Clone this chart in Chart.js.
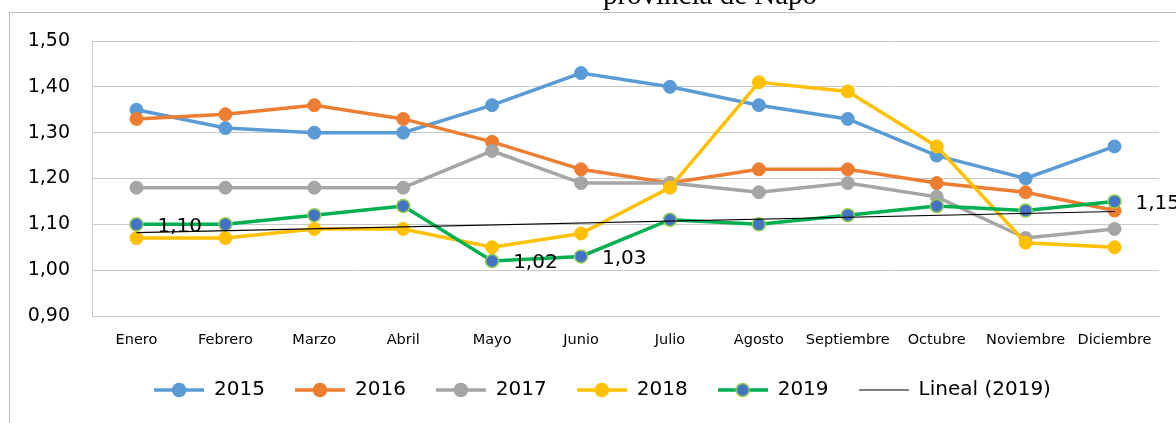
<!DOCTYPE html>
<html>
<head>
<meta charset="utf-8">
<title>provincia de Napo</title>
<script src="https://cdn.jsdelivr.net/npm/chart.js@4.4.0/dist/chart.umd.min.js"></script>
<style>
  html, body { margin: 0; padding: 0; background: #fff; }
  #wrap { position: relative; width: 1176px; height: 423px; overflow: hidden; }
  #caption {
    position: absolute; top: -20px; left: 0; width: 1420px;
    text-align: center; white-space: nowrap;
    font-family: "Liberation Serif", serif; font-size: 29px; line-height: 29px; color: #000;
  }
  #chart { position: absolute; left: 0; top: 0; }
</style>
</head>
<body>
<div id="wrap">
  <canvas id="chart" width="1176" height="423"></canvas>
  <div id="caption">provincia de Napo</div>
</div>
<script>
const months = ["Enero", "Febrero", "Marzo", "Abril", "Mayo", "Junio", "Julio",
  "Agosto", "Septiembre", "Octubre", "Noviembre", "Diciembre"];
const years = ["2015", "2016", "2017", "2018", "2019"];

const v2015 = [1.35, 1.31, 1.30, 1.30, 1.36, 1.43, 1.40, 1.36, 1.33, 1.25, 1.20, 1.27];
const v2016 = [1.33, 1.34, 1.36, 1.33, 1.28, 1.22, 1.19, 1.22, 1.22, 1.19, 1.17, 1.13];
const v2017 = [1.18, 1.18, 1.18, 1.18, 1.26, 1.19, 1.19, 1.17, 1.19, 1.16, 1.07, 1.09];
const v2018 = [1.07, 1.07, 1.09, 1.09, 1.05, 1.08, 1.18, 1.41, 1.39, 1.27, 1.06, 1.05];
const v2019 = [1.10, 1.10, 1.12, 1.14, 1.02, 1.03, 1.11, 1.10, 1.12, 1.14, 1.13, 1.15];

// linear trend of 2019, only its two ends (Enero, Diciembre)
const trend2019 = [1.082, null, null, null, null, null, null, null, null, null, null, 1.128];
const trendName = "Lineal (2019)";

// 2019 points that carry a value label
const labeledPoints = [0, 4, 5, 11];

const colors = ["#5B9BD5", "#ED7D31", "#A5A5A5", "#FFC000", "#00B050"];
const marker2019 = "#4472C4";
const markerEdge2019 = "#92D050";

const font = "'DejaVu Sans', sans-serif";
const fmt = v => v.toFixed(2).replace(".", ",");

function legendIcon(line, lineWidth, fill, edge) {
  const c = document.createElement("canvas");
  c.width = 50;
  c.height = 16;
  const g = c.getContext("2d");
  g.strokeStyle = line;
  g.lineWidth = lineWidth;
  g.beginPath();
  g.moveTo(0, 8);
  g.lineTo(50, 8);
  g.stroke();
  if (fill) {
    g.beginPath();
    g.arc(25, 8, 6.5, 0, Math.PI * 2);
    g.fillStyle = fill;
    g.fill();
    g.lineWidth = 1.5;
    g.strokeStyle = edge;
    g.stroke();
  }
  return c;
}

const series = [v2015, v2016, v2017, v2018, v2019];
const icons = [];
const datasets = series.map((values, i) => {
  const last = i === 4;
  icons.push(legendIcon(colors[i], 3.5, last ? marker2019 : colors[i], last ? markerEdge2019 : colors[i]));
  return {
    label: years[i],
    data: values,
    borderColor: colors[i],
    backgroundColor: colors[i],
    borderWidth: 3.5,
    pointRadius: 6.5,
    pointHoverRadius: 6.5,
    pointBackgroundColor: last ? marker2019 : colors[i],
    pointBorderColor: last ? markerEdge2019 : colors[i],
    pointBorderWidth: last ? 1.5 : 1,
    tension: 0,
    // later years sit on top
    order: 6 - i
  };
});
icons.push(legendIcon("#000", 1.2));
datasets.push({
  label: trendName,
  data: trend2019,
  borderColor: "#000",
  backgroundColor: "#000",
  borderWidth: 1.2,
  pointRadius: 0,
  spanGaps: true,
  order: 0
});

// outer frame, legend centring and the 2019 value labels
const extras = {
  id: "extras",
  afterLayout(chart) {
    // centre the legend row under x = 602
    chart.legend.left = 46;
    chart.legend.right = 1159;
  },
  beforeDraw(chart) {
    const ctx = chart.ctx;
    ctx.save();
    ctx.strokeStyle = "#bfbfbf";
    ctx.lineWidth = 1;
    ctx.beginPath();
    ctx.moveTo(9.5, 423);
    ctx.lineTo(9.5, 12.5);
    ctx.lineTo(1176, 12.5);
    ctx.stroke();
    ctx.restore();
  },
  afterDatasetsDraw(chart) {
    const ctx = chart.ctx;
    const meta = chart.getDatasetMeta(4);
    ctx.save();
    ctx.font = "20px " + font;
    ctx.fillStyle = "#000";
    ctx.textAlign = "left";
    ctx.textBaseline = "middle";
    labeledPoints.forEach(i => {
      const p = meta.data[i];
      ctx.fillText(fmt(v2019[i]), p.x + 21, p.y + 2);
    });
    ctx.restore();
  }
};

new Chart(document.getElementById("chart"), {
  type: "line",
  data: { labels: months, datasets: datasets },
  options: {
    responsive: false,
    devicePixelRatio: 1,
    animation: false,
    layout: { padding: { top: 41, right: 17, bottom: 13, left: 10 } },
    plugins: {
      tooltip: { enabled: false },
      title: { display: false },
      legend: {
        position: "bottom",
        labels: {
          usePointStyle: true,
          pointStyleWidth: 50,
          padding: 30,
          color: "#000",
          font: { family: font, size: 20 },
          sort: (a, b) => a.datasetIndex - b.datasetIndex,
          generateLabels(chart) {
            const items = Chart.defaults.plugins.legend.labels.generateLabels(chart);
            items.forEach(item => { item.pointStyle = icons[item.datasetIndex]; });
            return items;
          }
        }
      }
    },
    scales: {
      x: {
        offset: true,
        grid: { display: false, drawTicks: false },
        border: { display: true, color: "#c8c8c8" },
        ticks: {
          color: "#000",
          font: { family: font, size: 14.5 },
          padding: 16,
          maxRotation: 0,
          autoSkip: false
        },
        afterFit(scale) { scale.height = 34; }
      },
      y: {
        min: 0.9,
        max: 1.5,
        grid: { color: "#c8c8c8", drawTicks: false },
        border: { display: true, color: "#c8c8c8" },
        ticks: {
          stepSize: 0.1,
          color: "#000",
          font: { family: font, size: 19 },
          padding: 22,
          callback: v => fmt(v)
        },
        afterFit(scale) { scale.width = 82; }
      }
    }
  },
  plugins: [extras]
});
</script>
</body>
</html>
